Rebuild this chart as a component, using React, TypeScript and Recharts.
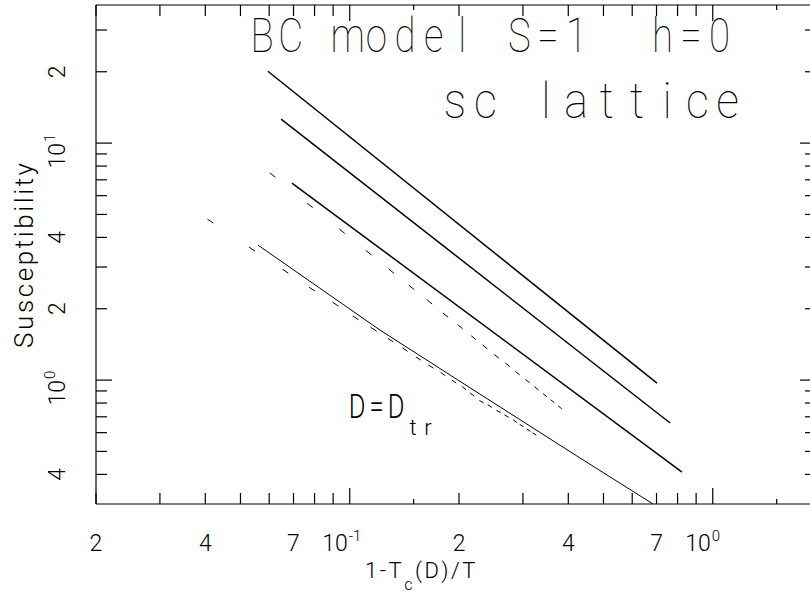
import React from "react";
import { ComposedChart, Line, XAxis, YAxis } from "recharts";

// x = 1 - Tc(D)/T, y = susceptibility, both
const lineAX = [0.0595, 0.702];
const lineAY = [20.1, 0.971];
const lineBX = [0.0647, 0.763];
const lineBY = [12.63, 0.659];
const lineCX = [0.0693, 0.823];
const lineCY = [6.78, 0.409];
const lineDX = [0.0559, 0.1212, 0.1987, 0.4309, 0.685];
const lineDY = [3.71, 1.625, 1.0, 0.469, 0.3];

const upperDashX = [
  0.0613, 0.0777, 0.0952, 0.1127, 0.1303, 0.148, 0.1658, 0.1836, 0.2014, 0.2193,
  0.2359, 0.2537, 0.2721, 0.2899, 0.3089, 0.3269, 0.3451, 0.3619, 0.3794,
];
const upperDashY = [
  7.33, 5.46, 4.25, 3.45, 2.88, 2.46, 2.14, 1.88, 1.68, 1.51,
  1.38, 1.26, 1.16, 1.07, 0.99, 0.923, 0.863, 0.814, 0.767,
];
const lowerDashX = [
  0.0413, 0.0538, 0.0665, 0.0787, 0.0914, 0.1038, 0.1163, 0.1295, 0.142, 0.1546,
  0.1674, 0.1807, 0.1937, 0.2065, 0.2174, 0.2307, 0.2433, 0.257, 0.2704, 0.2853,
  0.2974, 0.3108, 0.3228,
];
const lowerDashY = [
  4.69, 3.57, 2.88, 2.42, 2.09, 1.83, 1.64, 1.475, 1.345, 1.233,
  1.14, 1.06, 0.986, 0.925, 0.869, 0.811, 0.777, 0.737, 0.705, 0.671,
  0.643, 0.615, 0.592,
];

const xDomain = [0.02, 1.925];
const yDomain = [0.3, 38.26];

const xTicks = [
  0.02, 0.03, 0.04, 0.05, 0.06, 0.07, 0.08, 0.09, 0.1, 0.15,
  0.2, 0.3, 0.4, 0.5, 0.6, 0.7, 0.8, 0.9, 1, 1.5,
];
const xLabelValues = [0.02, 0.04, 0.07, 0.1, 0.2, 0.4, 0.7, 1];
const xLabelTexts = ["2", "4", "7", "10^-1", "2", "4", "7", "10^0"];

const yTicks = [
  0.4, 0.5, 0.6, 0.7, 0.8, 0.9, 1, 2, 3, 4, 5, 6, 7, 8, 9, 10, 20, 30,
];
const yLabelValues = [0.4, 1, 2, 4, 10, 20];
const yLabelTexts = ["4", "10^0", "2", "4", "10^1", "2"];

const decadeTicks = [0.1, 1, 10];
const halfTicks = [0.15, 1.5];

const FONT = "Roboto, 'DejaVu Sans', sans-serif";
const INK = "#000";

const zip = (xs: number[], ys: number[]) => xs.map((x, i) => ({ x, y: ys[i] }));
const near = (a: number, b: number) => Math.abs(a - b) < 1e-9;

function tickLen(v: number) {
  if (decadeTicks.some((m) => near(m, v))) return 16;
  if (halfTicks.some((m) => near(m, v))) return 5;
  return 11;
}

function labelFor(values: number[], texts: string[], v: number) {
  const i = values.findIndex((m) => near(m, v));
  return i < 0 ? null : texts[i];
}

function AxisLabel({ text, x, y }: { text: string; x: number; y: number }) {
  if (text.includes("^")) {
    const [base, exp] = text.split("^");
    return (
      <g fontFamily={FONT} fontWeight={300} fill={INK}>
        <text x={x - 2} y={y} fontSize={23} textAnchor="end">{base}</text>
        <text x={x - 1} y={y - 10} fontSize={15}>{exp}</text>
      </g>
    );
  }
  return (
    <text x={x} y={y} fontSize={23} fontFamily={FONT} fontWeight={300} fill={INK} textAnchor="middle">
      {text}
    </text>
  );
}

const BottomTick = (props: any) => {
  const { x, y, payload } = props;
  const v = payload.value;
  const label = labelFor(xLabelValues, xLabelTexts, v);
  return (
    <g>
      <line x1={x} y1={y} x2={x} y2={y - tickLen(v)} stroke={INK} strokeWidth={1.2} />
      {label && <AxisLabel text={label} x={x} y={y + 47} />}
    </g>
  );
};

const TopTick = (props: any) => {
  const { x, y, payload } = props;
  return <line x1={x} y1={y} x2={x} y2={y + tickLen(payload.value)} stroke={INK} strokeWidth={1.2} />;
};

const LeftTick = (props: any) => {
  const { x, y, payload } = props;
  const v = payload.value;
  const label = labelFor(yLabelValues, yLabelTexts, v);
  return (
    <g>
      <line x1={x} y1={y} x2={x + tickLen(v)} y2={y} stroke={INK} strokeWidth={1.2} />
      {label && (
        <g transform={`translate(${x - 31}, ${y}) rotate(-90)`}>
          <AxisLabel text={label} x={label.includes("^") ? 2 : 0} y={0} />
        </g>
      )}
    </g>
  );
};

const RightTick = (props: any) => {
  const { x, y, payload } = props;
  return <line x1={x} y1={y} x2={x - tickLen(payload.value)} y2={y} stroke={INK} strokeWidth={1.2} />;
};

// short dash drawn at each computed point, oriented along the curve
const DashMark = (props: any) => {
  const { cx, cy, index, points } = props;
  if (cx == null || cy == null) return <g key={`d-${index}`} />;
  let ux = 0.8;
  let uy = 0.6;
  let gap = 20;
  const nb = points && (points[index + 1] || points[index - 1]);
  if (nb) {
    const dx = nb.x - cx;
    const dy = nb.y - cy;
    const d = Math.hypot(dx, dy) || 1;
    ux = Math.abs(dx) / d;
    uy = Math.abs(dy) / d;
    gap = d;
  }
  const half = Math.min(3.5, 1.5 + gap * 0.1);
  return (
    <line
      key={`d-${index}`}
      x1={cx - ux * half}
      y1={cy - uy * half}
      x2={cx + ux * half}
      y2={cy + uy * half}
      stroke={INK}
      strokeWidth={1}
    />
  );
};

const title1 = "BC model S=1  h=0";
const title2 = "sc lattice";

// fixed-pitch text, each glyph centred in its cell and squeezed horizontally
function SpacedText({ text, x0, pitch, y, size, weight, squeeze = 1 }: { text: string; x0: number; pitch: number; y: number; size: number; weight: number; squeeze?: number }) {
  return (
    <g fontFamily={FONT} fontSize={size} fontWeight={weight} fill={INK} textAnchor="middle">
      {text.split("").map((ch, i) =>
        ch === " " ? null : (
          <text key={i} transform={`translate(${x0 + pitch * i}, ${y}) scale(${squeeze}, 1)`}>{ch}</text>
        )
      )}
    </g>
  );
}

const axisLine = { stroke: INK, strokeWidth: 1.2 };

export default function App() {
  return (
    <div style={{ position: "absolute", left: 0, top: 0, width: 810, height: 594, overflow: "hidden", background: "#fff" }}>
      <ComposedChart width={817} height={594} margin={{ top: 4, right: 0, bottom: 89, left: 95 }}>
        <XAxis
          xAxisId="bottom"
          dataKey="x"
          type="number"
          scale="log"
          domain={xDomain}
          allowDataOverflow
          ticks={xTicks}
          interval={0}
          height={1}
          tickSize={0}
          tickMargin={0}
          tickLine={false}
          axisLine={axisLine}
          tick={BottomTick}
        />
        <XAxis
          xAxisId="top"
          orientation="top"
          dataKey="x"
          type="number"
          scale="log"
          domain={xDomain}
          allowDataOverflow
          ticks={xTicks}
          interval={0}
          height={1}
          tickSize={0}
          tickMargin={0}
          tickLine={false}
          axisLine={axisLine}
          tick={TopTick}
        />
        <YAxis
          yAxisId="left"
          type="number"
          scale="log"
          domain={yDomain}
          allowDataOverflow
          ticks={yTicks}
          interval={0}
          width={1}
          tickSize={0}
          tickMargin={0}
          tickLine={false}
          axisLine={axisLine}
          tick={LeftTick}
        />
        <YAxis
          yAxisId="right"
          orientation="right"
          type="number"
          scale="log"
          domain={yDomain}
          allowDataOverflow
          ticks={yTicks}
          interval={0}
          width={1}
          tickSize={0}
          tickMargin={0}
          tickLine={false}
          axisLine={axisLine}
          tick={RightTick}
        />
        <Line xAxisId="bottom" yAxisId="left" data={zip(lineAX, lineAY)} dataKey="y" stroke={INK} strokeWidth={1.5} dot={false} isAnimationActive={false} />
        <Line xAxisId="bottom" yAxisId="left" data={zip(lineBX, lineBY)} dataKey="y" stroke={INK} strokeWidth={1.5} dot={false} isAnimationActive={false} />
        <Line xAxisId="bottom" yAxisId="left" data={zip(lineCX, lineCY)} dataKey="y" stroke={INK} strokeWidth={1.5} dot={false} isAnimationActive={false} />
        <Line xAxisId="bottom" yAxisId="left" data={zip(lineDX, lineDY)} dataKey="y" stroke={INK} strokeWidth={1} dot={false} isAnimationActive={false} />
        <Line xAxisId="bottom" yAxisId="left" data={zip(upperDashX, upperDashY)} dataKey="y" stroke="none" dot={DashMark} activeDot={false} isAnimationActive={false} />
        <Line xAxisId="bottom" yAxisId="left" data={zip(lowerDashX, lowerDashY)} dataKey="y" stroke="none" dot={DashMark} activeDot={false} isAnimationActive={false} />
      </ComposedChart>
      <svg width={810} height={594} style={{ position: "absolute", left: 0, top: 0, pointerEvents: "none" }}>
        <SpacedText text={title1} x0={262} pitch={28.6} y={52} size={48} weight={100} squeeze={0.8} />
        <SpacedText text={title2} x0={455} pitch={30.3} y={118} size={50} weight={100} squeeze={0.9} />
        <SpacedText text="D=D" x0={357} pitch={19.5} y={418} size={34} weight={300} squeeze={0.75} />
        <SpacedText text="tr" x0={413} pitch={15} y={435} size={22} weight={300} />
        <text
          transform="translate(33, 255.5) rotate(-90)"
          textAnchor="middle"
          fontFamily={FONT}
          fontSize={26}
          fontWeight={300}
          fill={INK}
          textLength={185}
          lengthAdjust="spacing"
        >
          Susceptibility
        </text>
        <text x={365} y={578} fontFamily={FONT} fontSize={22} fontWeight={300} fill={INK} letterSpacing={2.5}>
          1-T
          <tspan dy={12} fontSize={16}>c</tspan>
          <tspan dy={-12}>(D)/T</tspan>
        </text>
      </svg>
    </div>
  );
}
